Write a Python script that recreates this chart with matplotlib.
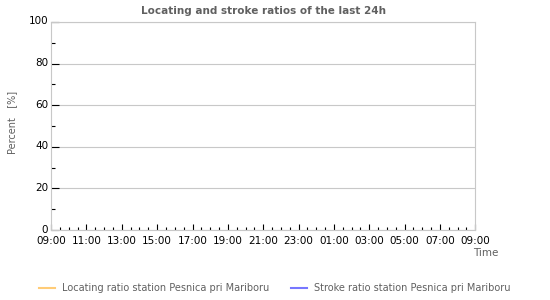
import numpy as np
import matplotlib.pyplot as plt
import matplotlib.transforms as mtransforms
from matplotlib.ticker import MultipleLocator, FixedLocator

title = "Locating and stroke ratios of the last 24h"
series_names = ["Locating ratio station Pesnica pri Mariboru",
                "Stroke ratio station Pesnica pri Mariboru"]
series_colors = ["#ffcc77", "#7777ff"]
# no data in the last 24h
locating_hours = []
locating_values = []
stroke_hours = []
stroke_values = []
start_hour = 9
tick_hours = list(range(0, 25, 2))
tick_labels = ["%02d:00" % ((start_hour + h) % 24) for h in tick_hours]

plt.rcParams['font.family'] = ['DejaVu Sans']
fig = plt.figure(figsize=(5.5, 3), dpi=100)
ax = fig.add_axes([0.093, 0.233, 0.771, 0.694])

l1, = ax.plot(locating_hours, locating_values, color=series_colors[0], lw=1.5)
l2, = ax.plot(stroke_hours, stroke_values, color=series_colors[1], lw=1.5)

ax.set_xlim(0, 24)
ax.set_ylim(0, 100)
ax.xaxis.set_major_locator(FixedLocator(tick_hours))
ax.set_xticklabels(tick_labels)
ax.xaxis.set_minor_locator(MultipleLocator(0.5))
ax.yaxis.set_major_locator(MultipleLocator(20))
ax.yaxis.set_minor_locator(MultipleLocator(10))

ax.tick_params(axis='both', which='major', labelsize=7.5, colors='black')
ax.tick_params(axis='x', which='major', direction='in', length=4, width=0.8, pad=4)
ax.tick_params(axis='x', which='minor', direction='in', length=2, width=0.8)
ax.tick_params(axis='y', which='major', direction='in', length=6, width=0.8, pad=2)
ax.tick_params(axis='y', which='minor', direction='in', length=3, width=0.8)

# y labels sit a touch above their tick
shift = mtransforms.ScaledTranslation(0, 1.5 / 100, fig.dpi_scale_trans)
for lab in ax.get_yticklabels():
    lab.set_transform(lab.get_transform() + shift)

ax.grid(axis='y', which='major', color='#c8c8c8', lw=0.8)
for s in ax.spines.values():
    s.set_color('#c8c8c8')
    s.set_linewidth(0.8)
ax.set_axisbelow(True)

fig.text(0.479, 0.965, title, ha='center', va='center', fontsize=7.5,
         fontweight='bold', color='#606060')
fig.text(0.022, 0.593, "Percent   [%]", rotation=90, ha='center', va='center',
         fontsize=7, color='#606060')
fig.text(0.907, 0.158, "Time", ha='right', va='center', fontsize=7.5, color='#606060')

fig.legend([l1, l2], series_names, loc='center', bbox_to_anchor=(0.5, 0.04),
           ncol=2, frameon=False, fontsize=7, labelcolor='#606060',
           handlelength=1.6, columnspacing=2.2, handletextpad=0.8)

fig.savefig("out.png", dpi=100)
